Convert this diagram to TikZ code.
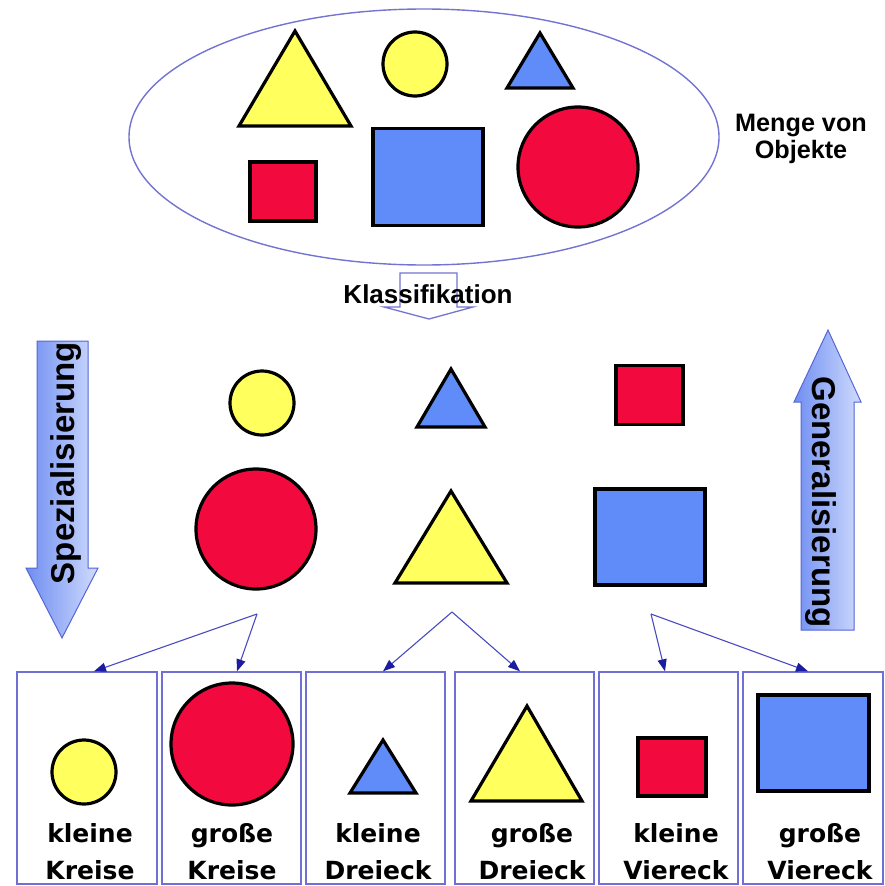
\documentclass[tikz,border=0pt]{standalone}
\usepackage{fontspec}
\setmainfont{Liberation Sans}
\newfontfamily\dvs{DejaVu Sans}
\usetikzlibrary{arrows.meta}
\definecolor{yel}{HTML}{FFFF5E}
\definecolor{rd}{HTML}{F20A3E}
\definecolor{bl}{HTML}{5F8CF8}
\definecolor{ell}{HTML}{7373D2}
\definecolor{con}{HTML}{4A4AC2}
\definecolor{tipc}{HTML}{1C1CA0}
\definecolor{boxc}{HTML}{6F6FD6}
\definecolor{aout}{HTML}{5566D4}
\definecolor{adark}{HTML}{6F8EF2}
\definecolor{alight}{HTML}{D0DBFC}
\begin{document}
\begin{tikzpicture}[x=1pt,y=-1pt,
  shp/.style={draw=black,line width=3.2pt},
  circ/.style={shp,circle,inner sep=0pt,minimum size=#1},
  sq/.style={shp,rectangle,inner sep=0pt},
  frame/.style={draw=boxc,line width=1.4pt,rectangle,inner sep=0pt,minimum height=212pt},
  conn/.style={draw=con,line width=1.1pt,-{Triangle[length=12pt,width=9pt,color=tipc]}},
  lab/.style={font=\dvs\bfseries\fontsize{25}{37}\selectfont,align=center,anchor=north,inner sep=0pt},
  big/.style={font=\bfseries\fontsize{33}{36}\selectfont,inner sep=0pt,anchor=base},
  blockarrow/.style={draw=aout,line width=1pt,left color=adark,right color=alight}]
\useasboundingbox (0,0) rectangle (884,886);

% top set
\draw[draw=ell,line width=1.4pt] (424,137) ellipse [x radius=295, y radius=128];
\draw[shp,fill=yel] (295,31) -- (351,126) -- (239,126) -- cycle;
\node[circ=64pt,fill=yel] (tc1) at (415,64) {};
\draw[shp,fill=bl] (540,33) -- (573,88) -- (507,88) -- cycle;
\node[sq,fill=rd,minimum width=66pt,minimum height=59pt] (ts1) at (283,191.5) {};
\node[sq,fill=bl,minimum width=110pt,minimum height=97pt] (ts2) at (428,177) {};
\node[circ=120pt,fill=rd] (tc2) at (578,167) {};
\node[font=\bfseries\fontsize{25.2}{27}\selectfont,align=center,anchor=north,inner sep=0pt] (menge) at (801,114) {Menge von\\Objekte};

% Klassifikation arrow
\draw[draw=ell,line width=1.3pt,fill=white] (400,273) -- (457,273) -- (457,307) -- (473,307) -- (429,319) -- (384,307) -- (400,307) -- cycle;
\node[font=\bfseries\fontsize{26}{30}\selectfont,inner sep=0pt,anchor=base] (klass) at (428,303) {Klassifikation};

% side arrows
\draw[blockarrow] (37,341) -- (88,341) -- (88,568) -- (98,568) -- (62,638) -- (26,568) -- (37,568) -- cycle;
\node[big,rotate=90] (spez) at (74.5,463) {Spezialisierung};
\draw[blockarrow] (801,630) -- (854,630) -- (854,402) -- (861,402) -- (828,330) -- (794,402) -- (801,402) -- cycle;
\node[big,rotate=-90] (gen) at (812,502) {Generalisierung};

% middle shapes
\node[circ=64pt,fill=yel] (mc1) at (262,403) {};
\draw[shp,fill=bl] (451,369) -- (485,427) -- (417,427) -- cycle;
\node[sq,fill=rd,minimum width=67pt,minimum height=59pt] (ms1) at (649.5,395) {};
\node[circ=120pt,fill=rd] (mc2) at (256,529) {};
\draw[shp,fill=yel] (451,491) -- (507,583) -- (395,583) -- cycle;
\node[sq,fill=bl,minimum width=110pt,minimum height=96pt] (ms2) at (650,537) {};

% fork points
\coordinate (f1) at (257,614);
\coordinate (f2) at (452,612);
\coordinate (f3) at (651,614);

% boxes
\node[frame,minimum width=140pt] (b1) at (87,778) {};
\node[frame,minimum width=139pt] (b2) at (231.5,778) {};
\node[frame,minimum width=139pt] (b3) at (375.5,778) {};
\node[frame,minimum width=139pt] (b4) at (524.5,778) {};
\node[frame,minimum width=139pt] (b5) at (668.5,778) {};
\node[frame,minimum width=140pt] (b6) at (813,778) {};

\draw[conn] (f1) -- ([xshift=7pt]b1.north);
\draw[conn] (f1) -- ([xshift=5.5pt]b2.north);
\draw[conn] (f2) -- ([xshift=7.5pt]b3.north);
\draw[conn] (f2) -- ([xshift=-4.5pt]b4.north);
\draw[conn] (f3) -- ([xshift=-3.5pt]b5.north);
\draw[conn] (f3) -- ([xshift=-5pt]b6.north);

% box contents
\node[circ=64pt,fill=yel] (bc1) at (84,772) {};
\node[circ=122pt,fill=rd] (bc2) at (232,744) {};
\draw[shp,fill=bl] (383,740) -- (416,793) -- (350,793) -- cycle;
\draw[shp,fill=yel] (527,706) -- (582,801) -- (471,801) -- cycle;
\node[sq,fill=rd,minimum width=68pt,minimum height=58pt] (bs1) at (672,767) {};
\node[sq,fill=bl,minimum width=111pt,minimum height=96pt] (bs2) at (813.5,743) {};

\node[lab] (l1) at (90,823) {kleine\\Kreise};
\node[lab] (l2) at (232,823) {große\\Kreise};
\node[lab] (l3) at (378,823) {kleine\\Dreieck};
\node[lab] (l4) at (532,823) {große\\Dreieck};
\node[lab] (l5) at (676,823) {kleine\\Viereck};
\node[lab] (l6) at (820,823) {große\\Viereck};
\end{tikzpicture}
\end{document}
